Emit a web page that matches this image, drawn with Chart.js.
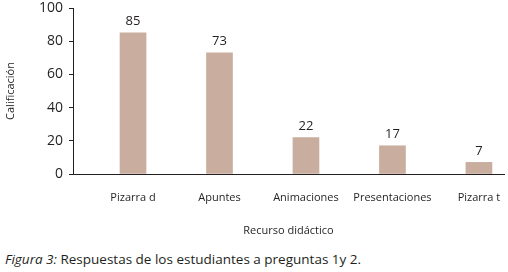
<!DOCTYPE html>
<html>
<head>
<meta charset="utf-8">
<script src="https://cdn.jsdelivr.net/npm/chart.js@4"></script>
<style>
  html, body { margin: 0; padding: 0; background: #fff; }
  #wrap { position: relative; width: 508px; height: 272px; }
  #chart { position: absolute; left: 0; top: 0; }
  #caption { position: absolute; left: 5px; top: 250px; font-family: 'Open Sans', sans-serif; font-size: 13.5px; color: #231f20; white-space: nowrap; }
</style>
</head>
<body>
<div id="wrap">
  <canvas id="chart" width="508" height="240"></canvas>
  <div id="caption"><i>Figura 3:</i> Respuestas de los estudiantes a preguntas 1y 2.</div>
</div>
<script>
const categories = ['Pizarra d', 'Apuntes', 'Animaciones', 'Presentaciones', 'Pizarra t'];
const values = [85, 73, 22, 17, 7];
const yTicks = [0, 20, 40, 60, 80, 100];

const textColor = '#231f20';
const font = "'Open Sans', sans-serif";

const valueLabels = {
    id: 'valueLabels',
    afterDatasetsDraw(chart) {
        const ctx = chart.ctx;
        const meta = chart.getDatasetMeta(0);
        ctx.save();
        ctx.font = '13px ' + font;
        ctx.fillStyle = textColor;
        ctx.textAlign = 'center';
        ctx.textBaseline = 'bottom';
        meta.data.forEach((bar, i) => {
            ctx.fillText(String(values[i]), bar.x, bar.y - 5);
        });
        ctx.restore();
    }
};

new Chart(document.getElementById('chart'), {
    type: 'bar',
    data: {
        datasets: [{
            data: values.map((v, i) => ({ x: i, y: v })),
            backgroundColor: '#c9ad9f',
            borderWidth: 0,
            barThickness: 26
        }]
    },
    options: {
        responsive: false,
        animation: false,
        layout: { padding: { top: 8, right: 4, left: 0, bottom: 0 } },
        plugins: { legend: { display: false }, tooltip: { enabled: false } },
        scales: {
            x: {
                type: 'linear',
                offset: false,
                min: -0.694,
                max: 4.29,
                afterBuildTicks: (scale) => { scale.ticks = categories.map((c, i) => ({ value: i })); },
                afterFit: (scale) => { scale.height = 66; scale.paddingLeft = 0; scale.paddingRight = 0; },
                grid: { display: false, drawTicks: false, offset: false },
                border: { display: true, color: textColor, width: 1 },
                ticks: {
                    padding: 17,
                    autoSkip: false,
                    maxRotation: 0,
                    color: textColor,
                    font: { family: font, size: 11 },
                    callback: (v) => categories[v]
                },
                title: {
                    display: true,
                    text: 'Recurso didáctico',
                    color: textColor,
                    font: { family: font, size: 11 },
                    padding: { top: 0, bottom: 3 }
                }
            },
            y: {
                min: 0,
                max: 100,
                afterBuildTicks: (scale) => { scale.ticks = yTicks.map(v => ({ value: v })); },
                afterFit: (scale) => { scale.width = 73; scale.paddingTop = 0; scale.paddingBottom = 0; },
                grid: { drawOnChartArea: false, drawTicks: true, tickLength: 4, color: textColor },
                border: { display: true, color: textColor, width: 1 },
                ticks: {
                    padding: 6,
                    color: textColor,
                    font: { family: font, size: 14 }
                },
                title: {
                    display: true,
                    text: 'Calificación',
                    color: textColor,
                    font: { family: font, size: 11 },
                    padding: { top: 4, bottom: 4 }
                }
            }
        }
    },
    plugins: [valueLabels]
});
</script>
</body>
</html>
